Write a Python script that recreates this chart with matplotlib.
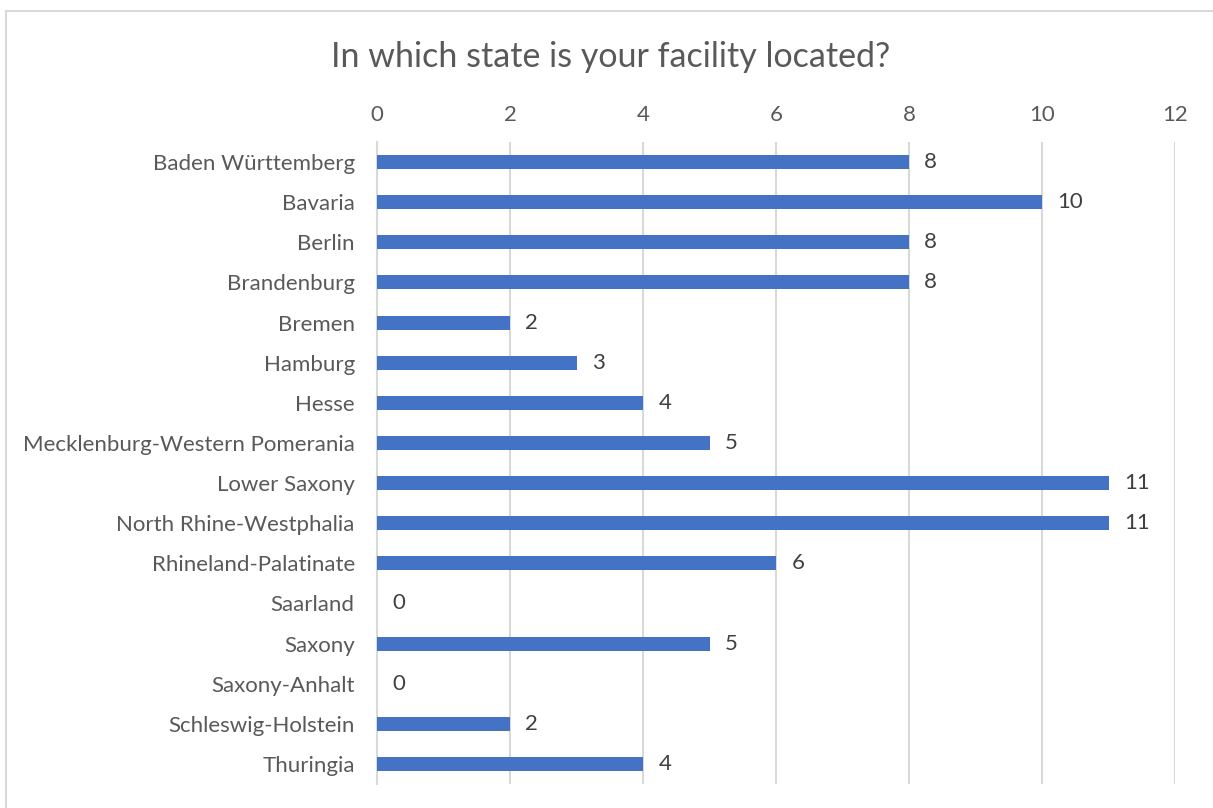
import matplotlib.pyplot as plt
import numpy as np
from matplotlib.lines import Line2D

states = ['Baden Württemberg', 'Bavaria', 'Berlin', 'Brandenburg', 'Bremen',
          'Hamburg', 'Hesse', 'Mecklenburg-Western Pomerania', 'Lower Saxony',
          'North Rhine-Westphalia', 'Rhineland-Palatinate', 'Saarland', 'Saxony',
          'Saxony-Anhalt', 'Schleswig-Holstein', 'Thuringia']
counts = [8, 10, 8, 8, 2, 3, 4, 5, 11, 11, 6, 0, 5, 0, 2, 4]
xticks = [0, 2, 4, 6, 8, 10, 12]

plt.rcParams['font.family'] = ['Lato', 'DejaVu Sans']
txt = '#595959'

fig = plt.figure(figsize=(12.13, 8.08), dpi=100)
ax = fig.add_axes([377 / 1213, 1 - 784 / 808, 798 / 1213, 642 / 808])

y = np.arange(len(states))
ax.barh(y, counts, height=0.35, color='#4472c4', zorder=3)
for yi, v in zip(y, counts):
    ax.annotate(str(v), (v, yi), xytext=(11, 0), textcoords='offset points',
                va='center', ha='left', fontsize=16, color='#404040')

ax.set_xlim(0, 12)
ax.set_ylim(len(states) - 0.5, -0.5)
ax.set_xticks(xticks)
ax.set_yticks(y)
ax.set_yticklabels(states)
ax.xaxis.tick_top()
ax.tick_params(axis='x', length=0, pad=12, labelsize=16, labelcolor=txt)
ax.tick_params(axis='y', length=0, pad=16, labelsize=16, labelcolor=txt)
ax.xaxis.grid(True, color='#d9d9d9', linewidth=1.5, zorder=0)
for s in ['top', 'right', 'bottom']:
    ax.spines[s].set_visible(False)
ax.spines['left'].set_color('#d9d9d9')
ax.spines['left'].set_linewidth(1.5)

fig.text(611 / 1213, 1 - 57 / 808, 'In which state is your facility located?',
         ha='center', va='center', fontsize=24.5, color=txt)

# chart border (only left and top visible in crop)
fig.add_artist(Line2D([6 / 1213, 6 / 1213], [0, 1 - 11 / 808],
                      transform=fig.transFigure, color='#d9d9d9', linewidth=1.5))
fig.add_artist(Line2D([6 / 1213, 1], [1 - 11 / 808, 1 - 11 / 808],
                      transform=fig.transFigure, color='#d9d9d9', linewidth=1.5))

fig.savefig('out.png', dpi=100, facecolor='white')
